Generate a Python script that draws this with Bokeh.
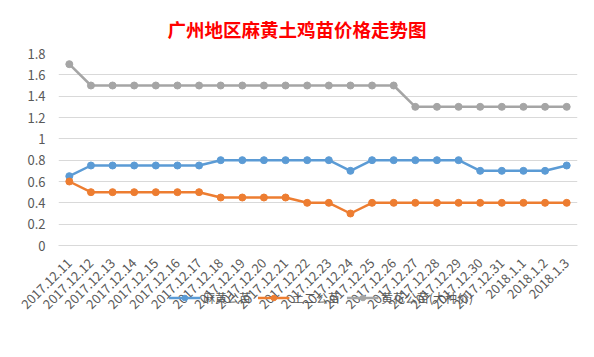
from bokeh.plotting import figure
from bokeh.models import Legend, LegendItem, NumeralTickFormatter, FixedTicker, FactorRange, Range1d
from bokeh.layouts import column
from bokeh.embed import file_html
from bokeh.resources import INLINE

dates = ["2017.12.11", "2017.12.12", "2017.12.13", "2017.12.14", "2017.12.15", "2017.12.16",
         "2017.12.17", "2017.12.18", "2017.12.19", "2017.12.20", "2017.12.21", "2017.12.22",
         "2017.12.23", "2017.12.24", "2017.12.25", "2017.12.26", "2017.12.27", "2017.12.28",
         "2017.12.29", "2017.12.30", "2017.12.31", "2018.1.1", "2018.1.2", "2018.1.3"]
mahuang = [0.65, 0.75, 0.75, 0.75, 0.75, 0.75, 0.75, 0.8, 0.8, 0.8, 0.8, 0.8,
           0.8, 0.7, 0.8, 0.8, 0.8, 0.8, 0.8, 0.7, 0.7, 0.7, 0.7, 0.75]
tuer = [0.6, 0.5, 0.5, 0.5, 0.5, 0.5, 0.5, 0.45, 0.45, 0.45, 0.45, 0.4,
        0.4, 0.3, 0.4, 0.4, 0.4, 0.4, 0.4, 0.4, 0.4, 0.4, 0.4, 0.4]
huanghua = [1.7, 1.5, 1.5, 1.5, 1.5, 1.5, 1.5, 1.5, 1.5, 1.5, 1.5, 1.5,
            1.5, 1.5, 1.5, 1.5, 1.3, 1.3, 1.3, 1.3, 1.3, 1.3, 1.3, 1.3]
series_names = ["麻黄公苗", "土二公苗", "黄花公苗(大种价)"]
colors = ["#5B9BD5", "#ED7D31", "#A5A5A5"]
y_ticks = [0, 0.2, 0.4, 0.6, 0.8, 1.0, 1.2, 1.4, 1.6, 1.8]
title_text = "广州地区麻黄土鸡苗价格走势图"

FONT = "Noto Sans CJK SC"
all_series = [mahuang, tuer, huanghua]

p = figure(x_range=FactorRange(*dates), y_range=(0, 1.8),
           frame_width=519, frame_height=192,
           min_border_left=58, min_border_right=9, min_border_top=53, min_border_bottom=0,
           output_backend="svg", toolbar_location=None)
p.outline_line_color = None
p.background_fill_color = "white"
p.border_fill_color = "white"

p.title.text = title_text
p.title.text_color = "#FF0000"
p.title.text_font = FONT
p.title.text_font_style = "bold"
p.title.text_font_size = "18.5px"
p.title.align = "left"
p.title.offset = 109
p.title.standoff = 24

p.xgrid.grid_line_color = None
p.ygrid.grid_line_color = "#D9D9D9"
p.ygrid.grid_line_width = 1

p.yaxis.ticker = FixedTicker(ticks=y_ticks)
p.yaxis.formatter = NumeralTickFormatter(format="0.[0]")
p.yaxis.axis_line_color = None
p.yaxis.major_tick_line_color = None
p.yaxis.minor_tick_line_color = None
p.yaxis.major_label_text_color = "#595959"
p.yaxis.major_label_text_font = FONT
p.yaxis.major_label_text_font_size = "13px"
p.yaxis.major_label_standoff = 7

p.xaxis.axis_line_color = "#D9D9D9"
p.xaxis.major_tick_line_color = None
p.xaxis.minor_tick_line_color = None
p.xaxis.major_label_orientation = 0.785398
p.xaxis.major_label_text_color = "#595959"
p.xaxis.major_label_text_font = FONT
p.xaxis.major_label_text_font_size = "13px"
p.xaxis.major_label_standoff = 9

for name, vals, c in zip(series_names, all_series, colors):
    p.line(dates, vals, line_color=c, line_width=2.5)
    p.scatter(dates, vals, marker="circle", size=7, fill_color=c, line_color=c)

# separate strip holding the legend (series drawn outside its visible y-range)
p2 = figure(x_range=p.x_range, y_range=Range1d(5, 6), width=592, height=24,
            min_border_left=0, min_border_right=0, min_border_top=0, min_border_bottom=0,
            x_axis_location=None, y_axis_location=None,
            output_backend="svg", toolbar_location=None, margin=(-31, 0, 0, 0))
p2.outline_line_color = None
p2.xgrid.grid_line_color = None
p2.ygrid.grid_line_color = None
p2.background_fill_alpha = 0
p2.border_fill_alpha = 0

items = []
for name, vals, c in zip(series_names, all_series, colors):
    r1 = p2.line(dates, vals, line_color=c, line_width=2.5)
    r2 = p2.scatter(dates, vals, marker="circle", size=7, fill_color=c, line_color=c)
    items.append(LegendItem(label=name, renderers=[r1, r2]))

legend = Legend(items=items, orientation="horizontal", location="center")
legend.border_line_color = None
legend.background_fill_alpha = 0
legend.label_text_font = FONT
legend.label_text_font_size = "12px"
legend.label_text_color = "#595959"
legend.glyph_width = 32
legend.glyph_height = 14
legend.label_standoff = 3
legend.spacing = 6
legend.padding = 2
legend.margin = 0
p2.add_layout(legend)

layout = column(p, p2, spacing=0)
open("out.html", "w").write(file_html(layout, INLINE))
